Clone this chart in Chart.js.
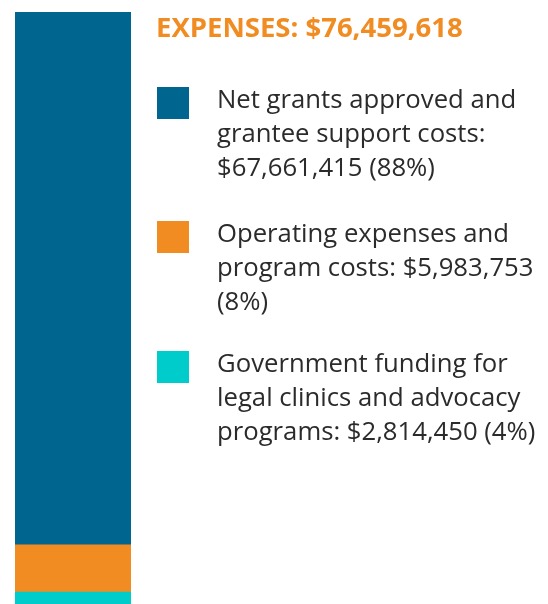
<!DOCTYPE html>
<html>
<head>
<meta charset="utf-8">
<script src="https://cdn.jsdelivr.net/npm/chart.js@4"></script>
<style>
  html, body { margin: 0; padding: 0; background: #fff; overflow: hidden; }
  #wrap { position: relative; width: 548px; height: 604px; }
  #chart { position: absolute; left: 0; top: 0; }
  #title {
    position: absolute; left: 156px; top: 8px; margin: 0;
    font: 700 27.5px "Open Sans", sans-serif; color: #f08c22;
    white-space: nowrap; line-height: 38px;
  }
  .item { position: absolute; left: 157px; width: 390px; }
  .swatch { position: absolute; left: 0; top: 4px; width: 32px; height: 32px; }
  .text {
    position: absolute; left: 60px; top: -1px; width: 326px;
    font: 400 25.7px "Open Sans", sans-serif; line-height: 34px; color: #2b2b2b;
  }
</style>
</head>
<body>
<div id="wrap">
  <canvas id="chart" width="548" height="604"></canvas>
  <h1 id="title"></h1>
  <div id="legend"></div>
</div>
<script>
const TOTAL = 76459618;
const CATEGORIES = ['Net grants approved and grantee support costs',
  'Operating expenses and program costs',
  'Government funding for legal clinics and advocacy programs'];
const VALUES = [67661415, 5983753, 2814450];
const PERCENTS = [88, 8, 4];
const COLORS = ['#006690', '#f08c22', '#00cccc'];
const ITEM_TOPS = [83, 217, 347];

const fmt = n => '$' + n.toLocaleString('en-US');

document.getElementById('title').textContent = 'EXPENSES: ' + fmt(TOTAL);

let legend = document.getElementById('legend');
CATEGORIES.forEach((label, i) => {
  let item = document.createElement('div');
  item.className = 'item';
  item.style.top = ITEM_TOPS[i] + 'px';
  let sw = document.createElement('div');
  sw.className = 'swatch';
  sw.style.background = COLORS[i];
  let txt = document.createElement('div');
  txt.className = 'text';
  txt.textContent = label + ': ' + fmt(VALUES[i]) + ' (' + PERCENTS[i] + '%)';
  item.appendChild(sw);
  item.appendChild(txt);
  legend.appendChild(item);
});

// bottom of the column runs off the page, so the axis starts a bit above zero
let datasets = VALUES.map((v, i) => ({
  label: CATEGORIES[i],
  data: [v],
  backgroundColor: COLORS[i],
  borderWidth: 0,
  barPercentage: 1,
  categoryPercentage: 1,
})).reverse();

new Chart(document.getElementById('chart'), {
  type: 'bar',
  data: { labels: ['Expenses'], datasets },
  options: {
    responsive: false,
    animation: false,
    layout: { padding: { left: 15, right: 417, top: 12, bottom: 0 } },
    scales: {
      x: { stacked: true, display: false },
      y: { stacked: true, display: false, min: 1300000, max: TOTAL },
    },
    plugins: { legend: { display: false }, tooltip: { enabled: false } },
  },
});
</script>
</body>
</html>
